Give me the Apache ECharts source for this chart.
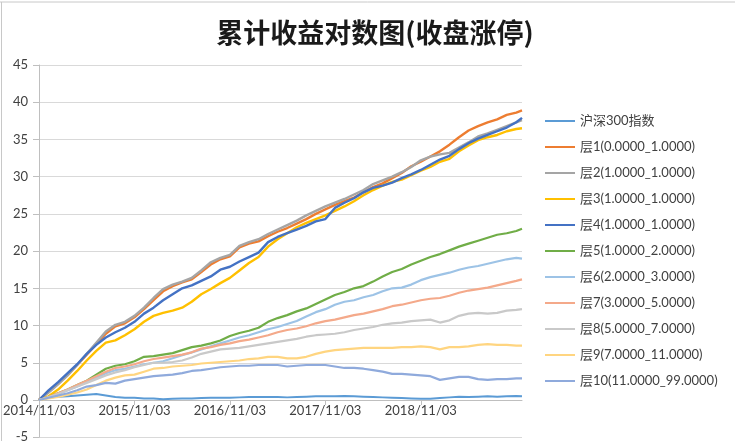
<!DOCTYPE html>
<html><head><meta charset="utf-8">
<script src="https://cdn.jsdelivr.net/npm/echarts@6/dist/echarts.min.js"></script>
<style>html,body{margin:0;padding:0;background:#fff}#c{width:735px;height:441px}</style>
</head><body><div id="c"></div>
<script>
const titleText = '累计收益对数图(收盘涨停)';
const xTickLabels = ['2014/11/03','2015/11/03','2016/11/03','2017/11/03','2018/11/03'];
// years since 2014/11/03
const tYears = [0,0.1,0.2,0.3,0.4,0.5,0.6,0.7,0.8,0.9,1.0,1.1,1.2,1.3,1.4,1.5,1.6,1.7,1.8,1.9,2.0,2.1,2.2,2.3,2.4,2.5,2.6,2.7,2.8,2.9,3.0,3.1,3.2,3.3,3.4,3.5,3.6,3.7,3.8,3.9,4.0,4.1,4.2,4.3,4.4,4.5,4.6,4.7,4.8,4.9,5.0,5.06];
const seriesNames = ['沪深300指数','层1(0.0000_1.0000)','层2(1.0000_1.0000)','层3(1.0000_1.0000)','层4(1.0000_1.0000)','层5(1.0000_2.0000)','层6(2.0000_3.0000)','层7(3.0000_5.0000)','层8(5.0000_7.0000)','层9(7.0000_11.0000)','层10(11.0000_99.0000)'];
const hs300 = [0,0.3,0.45,0.5,0.6,0.7,0.8,0.6,0.4,0.3,0.3,0.2,0.2,0.1,0.15,0.2,0.2,0.25,0.3,0.3,0.3,0.35,0.4,0.4,0.4,0.4,0.35,0.4,0.45,0.5,0.5,0.5,0.55,0.5,0.45,0.4,0.35,0.3,0.25,0.2,0.15,0.15,0.25,0.35,0.45,0.4,0.45,0.5,0.45,0.5,0.55,0.5];
const layer1 = [0,1.1,2.2,3.4,4.7,6.1,7.5,8.9,9.9,10.3,11.1,12.2,13.4,14.6,15.3,15.8,16.2,17.2,18.2,18.9,19.3,20.5,21.0,21.3,22.0,22.6,23.1,23.7,24.3,25.0,25.6,26.2,26.7,27.2,27.9,28.6,29.1,29.8,30.5,31.4,32.0,32.7,33.4,34.3,35.3,36.2,36.8,37.3,37.7,38.3,38.6,38.9];
const layer2 = [0,1.0,2.1,3.3,4.7,6.2,7.7,9.2,10.1,10.5,11.3,12.4,13.7,14.9,15.5,15.9,16.4,17.4,18.5,19.1,19.5,20.7,21.2,21.6,22.3,22.9,23.5,24.1,24.8,25.4,26.0,26.5,27.0,27.6,28.2,29.0,29.5,30.0,30.6,31.3,32.2,32.7,33.0,33.2,33.9,34.6,35.4,35.8,36.3,36.8,37.3,37.6];
const layer3 = [0,0.5,1.4,2.6,3.9,5.3,6.6,7.7,8.0,8.7,9.5,10.5,11.3,11.7,12.0,12.4,13.2,14.2,14.9,15.7,16.4,17.4,18.4,19.2,20.6,21.6,22.4,23.2,23.8,24.3,24.8,25.4,26.0,26.7,27.5,28.2,28.8,29.3,29.6,30.2,30.8,31.3,32.0,32.4,33.4,34.2,34.9,35.3,35.6,36.1,36.4,36.5];
const layer4 = [0,1.3,2.4,3.6,4.8,6.2,7.4,8.4,9.1,9.7,10.5,11.6,12.4,13.4,14.2,15.0,15.4,16.0,16.6,17.5,17.9,18.6,19.2,19.8,21.2,21.9,22.4,22.9,23.4,24.0,24.3,25.8,26.5,27.1,27.9,28.5,28.8,29.2,29.8,30.3,30.9,31.6,32.3,32.8,33.7,34.5,35.1,35.6,36.1,36.6,37.3,37.9];
const layer5 = [0,0.4,0.9,1.4,2.0,2.6,3.4,4.2,4.6,4.8,5.2,5.8,5.9,6.1,6.3,6.7,7.1,7.3,7.6,8.0,8.6,9.0,9.3,9.7,10.5,11.0,11.4,11.9,12.3,12.9,13.5,14.1,14.5,15.0,15.3,15.9,16.6,17.2,17.6,18.2,18.7,19.2,19.6,20.1,20.6,21.0,21.4,21.8,22.2,22.4,22.7,23.0];
const layer6 = [0,0.3,0.8,1.3,1.8,2.4,3.0,3.6,4.0,4.2,4.5,4.8,5.0,5.2,5.6,6.0,6.4,6.8,7.2,7.6,8.0,8.4,8.7,9.1,9.5,9.8,10.2,10.6,11.2,11.8,12.2,12.8,13.2,13.4,13.8,14.1,14.6,15.0,15.1,15.5,16.1,16.5,16.8,17.1,17.5,17.8,18.0,18.3,18.6,18.9,19.1,19.0];
const layer7 = [0,0.4,0.9,1.4,2.0,2.6,3.2,3.8,4.3,4.5,4.8,5.2,5.5,5.7,5.9,6.1,6.4,6.9,7.1,7.4,7.6,7.9,8.1,8.4,8.7,9.1,9.4,9.6,9.9,10.3,10.6,10.8,11.1,11.4,11.6,11.9,12.2,12.6,12.8,13.1,13.4,13.6,13.7,14.0,14.4,14.7,14.9,15.1,15.4,15.7,16.0,16.2];
const layer8 = [0,0.4,0.8,1.3,1.8,2.3,2.8,3.3,3.7,4.0,4.4,4.7,5.0,5.0,5.1,5.3,5.7,6.2,6.5,6.8,6.9,7.0,7.2,7.4,7.6,7.8,8.0,8.2,8.5,8.7,8.8,8.9,9.1,9.4,9.6,9.8,10.1,10.3,10.4,10.6,10.7,10.8,10.4,10.7,11.3,11.6,11.7,11.6,11.7,12.0,12.1,12.2];
const layer9 = [0,0.2,0.4,0.7,1.0,1.4,2.0,2.6,3.0,3.3,3.4,3.8,4.2,4.3,4.5,4.6,4.7,4.9,5.0,5.1,5.2,5.3,5.5,5.6,5.8,5.8,5.6,5.6,5.8,6.2,6.5,6.7,6.8,6.9,7.0,7.0,7.0,7.0,7.1,7.1,7.2,7.1,6.8,7.1,7.1,7.2,7.4,7.5,7.4,7.4,7.3,7.3];
const layer10 = [0,0.3,0.6,0.9,1.3,1.8,2.0,2.3,2.2,2.6,2.8,3.0,3.2,3.3,3.4,3.6,3.9,4.0,4.2,4.4,4.5,4.6,4.6,4.7,4.7,4.7,4.5,4.6,4.7,4.7,4.7,4.5,4.3,4.3,4.2,4.0,3.8,3.5,3.5,3.4,3.3,3.2,2.7,2.9,3.1,3.1,2.8,2.7,2.8,2.8,2.9,2.9];
const allValues = [hs300,layer1,layer2,layer3,layer4,layer5,layer6,layer7,layer8,layer9,layer10];
const colors = ['#5B9BD5','#ED7D31','#A5A5A5','#FFC000','#4472C4','#70AD47','#9DC3E6','#F4A98A','#C9C9C9','#FFD580','#8FAADC'];
const widths = [2,2.4,2.4,2.4,2.4,2.2,2.2,2.2,2.2,2.2,2.2];

const FONT = "Lato, 'Noto Sans CJK SC', sans-serif";
const chart = echarts.init(document.getElementById('c'), null, {renderer:'canvas'});
chart.setOption({
  animation:false,
  color:colors,
  title:{text:titleText, left:370, top:14, textAlign:'center',
    textStyle:{fontFamily:"'Noto Sans CJK SC', sans-serif", fontSize:27, fontWeight:'bold', color:'#1a1a1a'}},
  graphic:[
    {type:'line', shape:{x1:0,y1:2,x2:735,y2:2}, style:{stroke:'#c8c8c8', lineWidth:1}},
    {type:'line', shape:{x1:1.5,y1:2,x2:1.5,y2:441}, style:{stroke:'#c8c8c8', lineWidth:1}}
  ],
  legend:{orient:'vertical', left:540, top:108, icon:'rect', itemWidth:30, itemHeight:2, itemGap:10,
    textStyle:{fontFamily:FONT, fontSize:13, color:'#404040', lineHeight:16},
    data:seriesNames},
  grid:{left:39, right:213, top:65, bottom:3.8, containLabel:false, outerBoundsMode:'none'},
  xAxis:{type:'value', min:0, max:5.06, interval:1, position:'bottom', offset:-37.2,
    axisLine:{onZero:false, lineStyle:{color:'#bfbfbf', width:1}},
    axisTick:{show:true, length:5, lineStyle:{color:'#bfbfbf'}, customValues:[0,1,2,3,4]},
    axisLabel:{customValues:[0,1,2,3,4], margin:4, fontFamily:FONT, fontSize:13, color:'#404040',
      formatter:function(v){ const i=Math.round(v); return xTickLabels[i]||''; }},
    splitLine:{show:false}},
  yAxis:{type:'value', min:-5, max:45, interval:5,
    axisLine:{show:true, onZero:false, lineStyle:{color:'#bfbfbf'}},
    axisTick:{show:true, length:6, lineStyle:{color:'#bfbfbf'}},
    axisLabel:{margin:11, fontFamily:FONT, fontSize:13, color:'#404040'},
    splitLine:{show:true, lineStyle:{color:'#d9d9d9', width:1}}},
  series: seriesNames.map(function(name,i){
    return {name:name, type:'line', showSymbol:false, symbol:'none',
      lineStyle:{width:widths[i], color:colors[i]},
      data: tYears.map(function(t,j){return [t, allValues[i][j]];})};
  })
});
</script></body></html>
